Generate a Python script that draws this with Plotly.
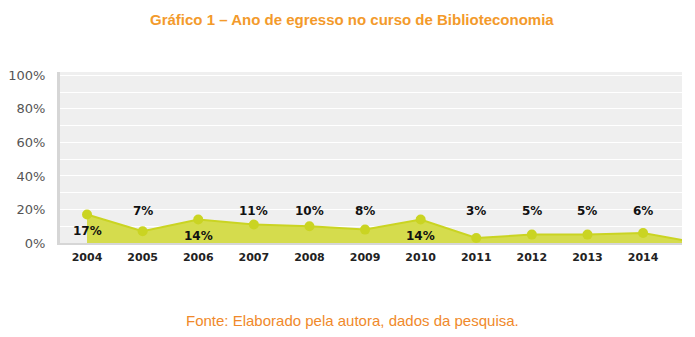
import plotly.graph_objects as go

# ---- data ----
years = [2004, 2005, 2006, 2007, 2008, 2009, 2010, 2011, 2012, 2013, 2014, 2015]
pct = [17, 7, 14, 11, 10, 8, 14, 3, 5, 5, 6, 0]
tick_years = [2004, 2005, 2006, 2007, 2008, 2009, 2010, 2011, 2012, 2013, 2014]
y_ticks = [0, 20, 40, 60, 80, 100]
y_tick_text = ["0%", "20%", "40%", "60%", "80%", "100%"]

title_text = "Gráfico 1 – Ano de egresso no curso de Biblioteconomia"
source_text = "Fonte: Elaborado pela autora, dados da pesquisa."

# label placement (style): which data labels sit below the point
label_below = [True, False, True, False, False, False, True, False, False, False, False]

FILL = "#d5dc4d"
LINE = "#cad422"
ORANGE = "#f39a2b"

# page has an 8px body margin; plot area wanted at screen x 60..682, y 72..243
ML, MT = 52, 64
PW, PH = 622, 171
W, H = 695, 337

fig = go.Figure()
fig.add_trace(go.Scatter(
    x=years, y=pct, mode="lines+markers",
    fill="tozeroy", fillcolor=FILL,
    line=dict(color=LINE, width=2),
    marker=dict(color=LINE, size=10),
    hoverinfo="skip", showlegend=False,
))

ABOVE_LEVEL = 19
for yr, v, below in zip(tick_years, pct, label_below):
    fig.add_annotation(x=yr, y=v if below else ABOVE_LEVEL, yshift=-16 if below else 0,
                       text=f"{v}%", showarrow=False,
                       xref="x", yref="y", yanchor="middle",
                       font=dict(family="DejaVu Sans", size=12, color="#111", weight="bold"))

cx = (344 - ML) / PW
fig.add_annotation(text=f"<b>{title_text}</b>", x=cx, y=1, yshift=MT - 11,
                   xref="paper", yref="paper", yanchor="middle", showarrow=False,
                   font=dict(family="Liberation Sans, Arial", size=15, color=ORANGE))
fig.add_annotation(text=source_text, x=cx, y=0, yshift=-(320 - 243),
                   xref="paper", yref="paper", yanchor="middle", showarrow=False,
                   font=dict(family="Liberation Sans, Arial", size=15, color="#f0892a"))

fig.update_layout(
    width=W, height=H,
    margin=dict(l=ML, r=W - ML - PW, t=MT, b=H - MT - PH, autoexpand=False),
    paper_bgcolor="white", plot_bgcolor="#efefef",
    xaxis=dict(
        range=[2003.514, 2014.70], tickmode="array", tickvals=tick_years,
        ticktext=[str(y) for y in tick_years], showgrid=False, zeroline=False,
        showline=True, linecolor="#d6d6d6", linewidth=2,
        ticks="", ticklabelstandoff=3,
        tickfont=dict(family="DejaVu Sans", size=11, color="#222", weight="bold"),
    ),
    yaxis=dict(
        range=[0, 102], tickmode="array", tickvals=y_ticks, ticktext=y_tick_text,
        showgrid=True, gridcolor="white", gridwidth=1, zeroline=False,
        minor=dict(dtick=10, showgrid=True, gridcolor="white", gridwidth=1),
        showline=True, linecolor="#d6d6d6", linewidth=3,
        ticks="", ticklabelstandoff=9,
        tickfont=dict(family="DejaVu Sans", size=13, color="#555"),
    ),
)

fig.write_html("out.html")
